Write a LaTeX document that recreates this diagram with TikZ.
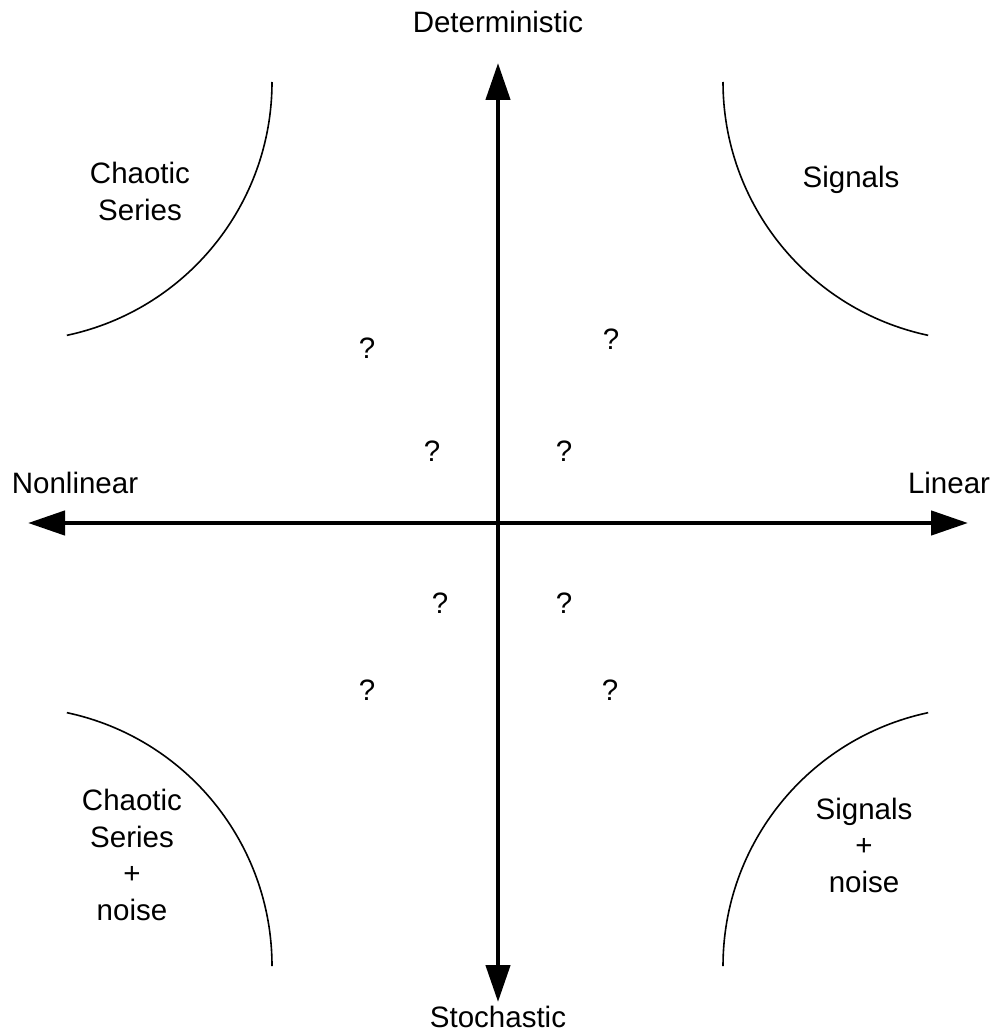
\documentclass[tikz,border=0pt]{standalone}
\usepackage{fontspec}
\setmainfont{Liberation Sans}
\usetikzlibrary{arrows.meta}
\tikzset{
  axisline/.style={line width=4.5pt, {Triangle[length=37pt,width=24pt]}-{Triangle[length=37pt,width=24pt]}},
  arcline/.style={line width=1.6pt},
  lbl/.style={font=\fontsize{29.5}{36.5}\selectfont, inner sep=0pt, align=center},
  qm/.style={font=\fontsize{29.5}{36.5}\selectfont, inner sep=0pt}
}
\begin{document}
\begin{tikzpicture}[x=1pt,y=-1pt]
\useasboundingbox (0,0) rectangle (994,1035);
% axes
\coordinate (top) at (498,63);
\coordinate (bot) at (498,1002);
\coordinate (lft) at (28,523);
\coordinate (rgt) at (968,523);
\draw[axisline] (bot) -- (top);
\draw[axisline] (lft) -- (rgt);
% axis labels
\node[lbl, anchor=base] (det) at (498,33) {Deterministic};
\node[lbl, anchor=base] (sto) at (498,1027) {Stochastic};
\node[lbl, anchor=base] (nonlin) at (75,493) {Nonlinear};
\node[lbl, anchor=base] (lin) at (949,493) {Linear};
% arcs
\draw[arcline] (272,82) arc[start angle=0, end angle=78, radius=259];
\draw[arcline] (723,82) arc[start angle=180, end angle=102, radius=259];
\draw[arcline] (272,966) arc[start angle=0, end angle=-78, radius=259];
\draw[arcline] (723,966) arc[start angle=180, end angle=258, radius=259];
% quadrant labels (base = baseline of last line)
\node[lbl, anchor=base] (cs) at (140,220) {Chaotic\\Series};
\node[lbl, anchor=base] (sig) at (851,188) {Signals};
\node[lbl, anchor=base] (csn) at (132,920) {Chaotic\\Series\\+\\noise};
\node[lbl, anchor=base] (sign) at (864,892) {Signals\\+\\noise};
% question marks
\node[qm] (q1) at (367,348) {?};
\node[qm] (q2) at (611,339) {?};
\node[qm] (q3) at (432,451) {?};
\node[qm] (q4) at (564,451) {?};
\node[qm] (q5) at (440,603) {?};
\node[qm] (q6) at (564,603) {?};
\node[qm] (q7) at (367,690) {?};
\node[qm] (q8) at (610,690) {?};
\end{tikzpicture}
\end{document}
